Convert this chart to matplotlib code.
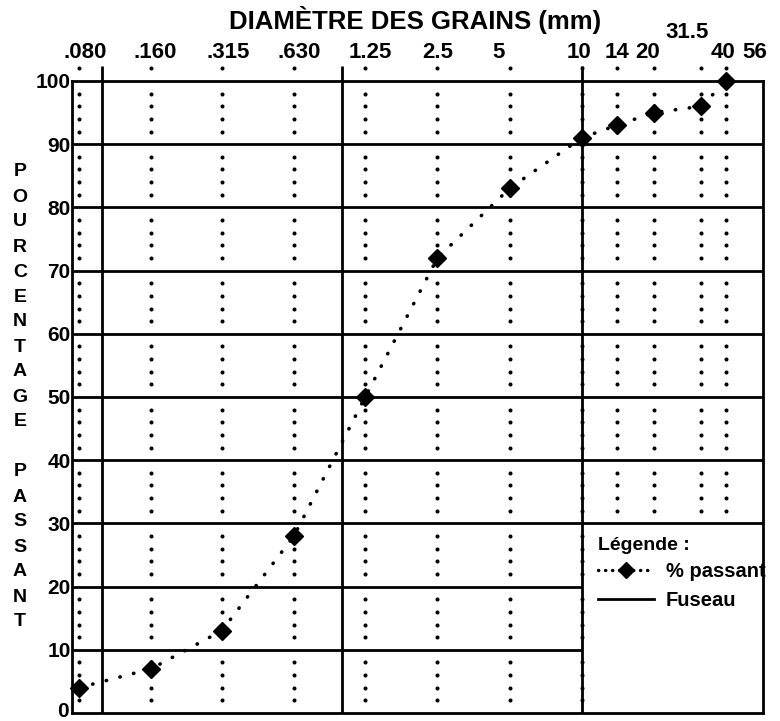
import matplotlib
matplotlib.use("Agg")
import matplotlib.pyplot as plt
from matplotlib.lines import Line2D
import numpy as np

# ---------------- data ----------------
sieves = [0.080, 0.160, 0.315, 0.630, 1.25, 2.5, 5, 10, 14, 20, 31.5, 40]
passing = [4, 7, 13, 28, 50, 72, 83, 91, 93, 95, 96, 100]
top_labels = ['.080', '.160', '.315', '.630', '1.25', '2.5', '5', '10', '14', '20', '31.5', '40', '56']
top_label_pos = [0.080, 0.160, 0.315, 0.630, 1.25, 2.5, 5, 10, 14, 20, 31.5, 40, 56]
y_ticks = [0, 10, 20, 30, 40, 50, 60, 70, 80, 90, 100]
decades = [0.1, 1, 10]
title = "DIAMÈTRE DES GRAINS (mm)"
ylabel = "POURCENTAGE PASSANT"

# ---------------- layout ----------------
plt.rcParams['font.family'] = ['Liberation Sans', 'DejaVu Sans']
plt.rcParams['font.weight'] = 'bold'

W, H = 780, 721
fig = plt.figure(figsize=(W / 100, H / 100), dpi=100)
fig.patch.set_facecolor('white')
ax = fig.add_axes([72 / W, 8 / H, 691 / W, 632 / H])
ax.set_xscale('log')
xmin, xmax = 0.0748, 57
ax.set_xlim(xmin, xmax)
ax.set_ylim(0, 100)
ax.minorticks_off()
ax.set_xticks([])
for sp in ax.spines.values():
    sp.set_linewidth(2.0)
    sp.set_color('black')

# y tick labels: "0" is drawn separately so it stays inside the picture
ax.set_yticks(y_ticks)
ax.set_yticklabels(['' if v == y_ticks[0] else str(v) for v in y_ticks],
                   fontsize=15, fontweight='bold')
ax.tick_params(axis='y', length=0, pad=1)
ax.annotate(str(y_ticks[0]), xy=(0, y_ticks[0]),
            xycoords=('axes fraction', 'data'), xytext=(-3, -8),
            textcoords='offset pixels', ha='right', va='bottom',
            fontsize=15, fontweight='bold', annotation_clip=False)

lw_grid = 2.0
legend_x = 10
legend_top = 30
# horizontal grid lines
for v in y_ticks[1:-1]:
    if v < legend_top:
        ax.hlines(v, xmin, legend_x, color='black', lw=lw_grid)
    else:
        ax.hlines(v, xmin, xmax, color='black', lw=lw_grid)
# decade solid vertical lines (extend slightly above 100)
for d in decades:
    ax.vlines(d, 0, 102.3, color='black', lw=lw_grid, clip_on=False)

# dotted sieve lines
for s in sieves:
    lo = legend_top if s > legend_x else 0
    ys = [v for v in range(2, 103, 2) if v % 10 != 0 and v > lo]
    ax.plot([s] * len(ys), ys, linestyle='none', marker='o', ms=1.9,
            color='black', clip_on=False)

# curve
ax.plot(sieves, passing, color='black', lw=2.6, linestyle=(0, (0.1, 3.8)),
        dash_capstyle='round', marker='D', ms=9.5, clip_on=False, zorder=5)

# top labels
nudges = [6, 4, 6, 5, 5, 0, -11, -3, 0, -6, -14, -3, -6]
raises = [29] * len(top_labels)
raises[top_labels.index('31.5')] = 48
for lab, pos, dx, dy in zip(top_labels, top_label_pos, nudges, raises):
    ax.annotate(lab, xy=(pos, 100), xytext=(dx, dy), textcoords='offset pixels',
                ha='center', va='center', fontsize=16, fontweight='bold',
                annotation_clip=False)

fig.text(415 / W, 1 - 20 / H, title, ha='center', va='center',
         fontsize=18.5, fontweight='bold')

for i, ch in enumerate(ylabel):
    if ch != ' ':
        fig.text(20 / W, 1 - (172 + 25 * i) / H, ch, ha='center', va='center',
                 fontsize=14, fontweight='bold')

# legend
handles = [Line2D([], [], color='black', lw=2.4, linestyle=(0, (0.1, 2.0)),
                  dash_capstyle='round', marker='D', ms=8.5),
           Line2D([], [], color='black', lw=2.0)]
leg = ax.legend(handles, ['% passant', 'Fuseau'], title='Légende :',
                loc='upper left', bbox_to_anchor=(588 / W, 1 - 527 / H),
                bbox_transform=fig.transFigure, frameon=False, borderpad=0,
                fontsize=14.5, title_fontsize=14, handlelength=2.8,
                handletextpad=0.55, labelspacing=0.5, alignment='left',
                numpoints=1)
leg.get_title().set_fontweight('bold')
leg._legend_box.sep = 6
for t in leg.get_texts():
    t.set_fontweight('bold')

fig.savefig('out.png', dpi=100, facecolor='white')
